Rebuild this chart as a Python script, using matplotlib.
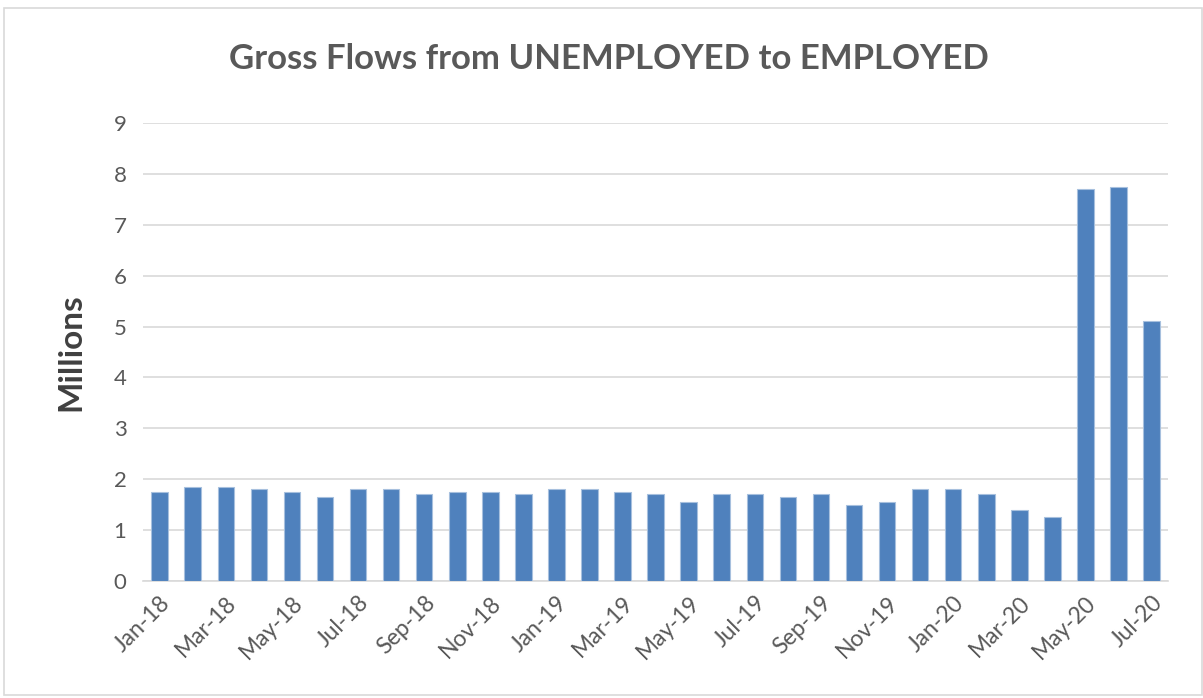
import matplotlib.pyplot as plt
import matplotlib.patches as patches
import numpy as np

# monthly gross flows, unemployed -> employed (millions)
months = ["Jan-18", "Feb-18", "Mar-18", "Apr-18", "May-18", "Jun-18",
          "Jul-18", "Aug-18", "Sep-18", "Oct-18", "Nov-18", "Dec-18",
          "Jan-19", "Feb-19", "Mar-19", "Apr-19", "May-19", "Jun-19",
          "Jul-19", "Aug-19", "Sep-19", "Oct-19", "Nov-19", "Dec-19",
          "Jan-20", "Feb-20", "Mar-20", "Apr-20", "May-20", "Jun-20", "Jul-20"]
flows = [1.75, 1.85, 1.85, 1.8, 1.75, 1.65,
         1.8, 1.8, 1.7, 1.75, 1.75, 1.7,
         1.8, 1.8, 1.75, 1.7, 1.55, 1.7,
         1.7, 1.65, 1.7, 1.5, 1.55, 1.8,
         1.8, 1.7, 1.4, 1.25, 7.7, 7.75, 5.1]
yticks = list(range(0, 10))

plt.rcParams['font.family'] = ['Lato', 'DejaVu Sans']
grey = '#595959'

fig = plt.figure(figsize=(12.03, 6.98), dpi=100)
ax = fig.add_axes([0.119, 0.1676, 0.852, 0.6562])

x = np.arange(len(months))
ax.bar(x, flows, width=0.5, color='#4f81bd', edgecolor='#a7c0de', linewidth=0.8, zorder=3)

ax.set_xlim(-0.5, len(months) - 0.5)
ax.set_ylim(0, 9)
ax.set_yticks(yticks)
ax.set_yticklabels([str(t) for t in yticks], fontsize=16, color=grey)
ax.yaxis.grid(True, color='#d9d9d9', linewidth=1.2, zorder=0)

ax.set_xticks(x[::2])
ax.set_xticklabels(months[::2], rotation=45, ha='right', rotation_mode='anchor',
                   fontsize=16.5, color=grey)
ax.tick_params(axis='both', length=0)
ax.tick_params(axis='x', pad=8)
ax.tick_params(axis='y', pad=12)

for side in ['top', 'right', 'left']:
    ax.spines[side].set_visible(False)
ax.spines['bottom'].set_color('#d9d9d9')
ax.spines['bottom'].set_linewidth(1.2)

ax.set_ylabel("Millions", fontsize=24, fontweight='bold', color='#404040', labelpad=20)
fig.text(0.506, 0.915, "Gross Flows from UNEMPLOYED to EMPLOYED", ha='center', va='center',
         fontsize=25, fontweight='bold', color=grey)

# light frame round the chart area
fig.patches.append(patches.Rectangle((0.003, 0.004), 0.996, 0.984, transform=fig.transFigure,
                                     fill=False, edgecolor='#d9d9d9', linewidth=1.2))

fig.savefig("out.png", dpi=100)
